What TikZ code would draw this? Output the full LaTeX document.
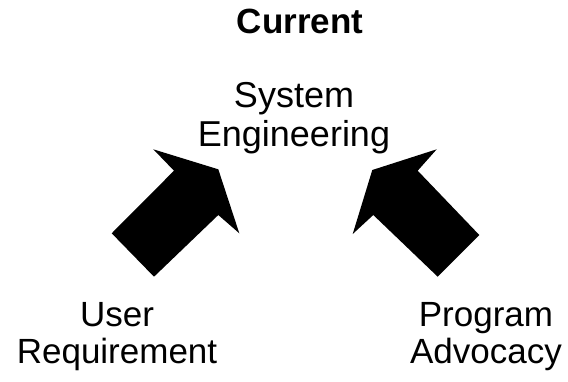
\documentclass[tikz,border=0pt]{standalone}
\usepackage{fontspec}
\setmainfont{Liberation Sans}
\tikzset{
  lbl/.style={inner sep=0pt, outer sep=0pt, align=center, anchor=base, font=\fontsize{36}{39}\selectfont},
  lblsm/.style={lbl, font=\fontsize{35}{37}\selectfont},
  title/.style={inner sep=0pt, anchor=base, font=\fontsize{35}{40}\selectfont\bfseries},
  bigarrow/.style={fill=black, draw=none}
}
\begin{document}
\begin{tikzpicture}[x=1pt,y=-1pt]
\useasboundingbox (0,0) rectangle (568,381);
\node[title] (cur) at (300,33) {Current};
\node[lbl] (se) at (294,146) {System\\Engineering};
\node[lblsm] (ur) at (117,363) {User\\Requirement};
\node[lblsm] (pa) at (486,363) {Program\\Advocacy};
\fill[bigarrow] (218.3,169.3) -- (153.3,149.3) -- (174,170.7) -- (111.7,233.3) -- (154,276.7) -- (218.3,215) -- (239.3,233.3) -- cycle;
\fill[bigarrow] (372.3,170) -- (436.7,149.3) -- (417.7,170.7) -- (479.3,235) -- (437.7,276.7) -- (373.3,215) -- (352.7,234) -- cycle;
\end{tikzpicture}
\end{document}
